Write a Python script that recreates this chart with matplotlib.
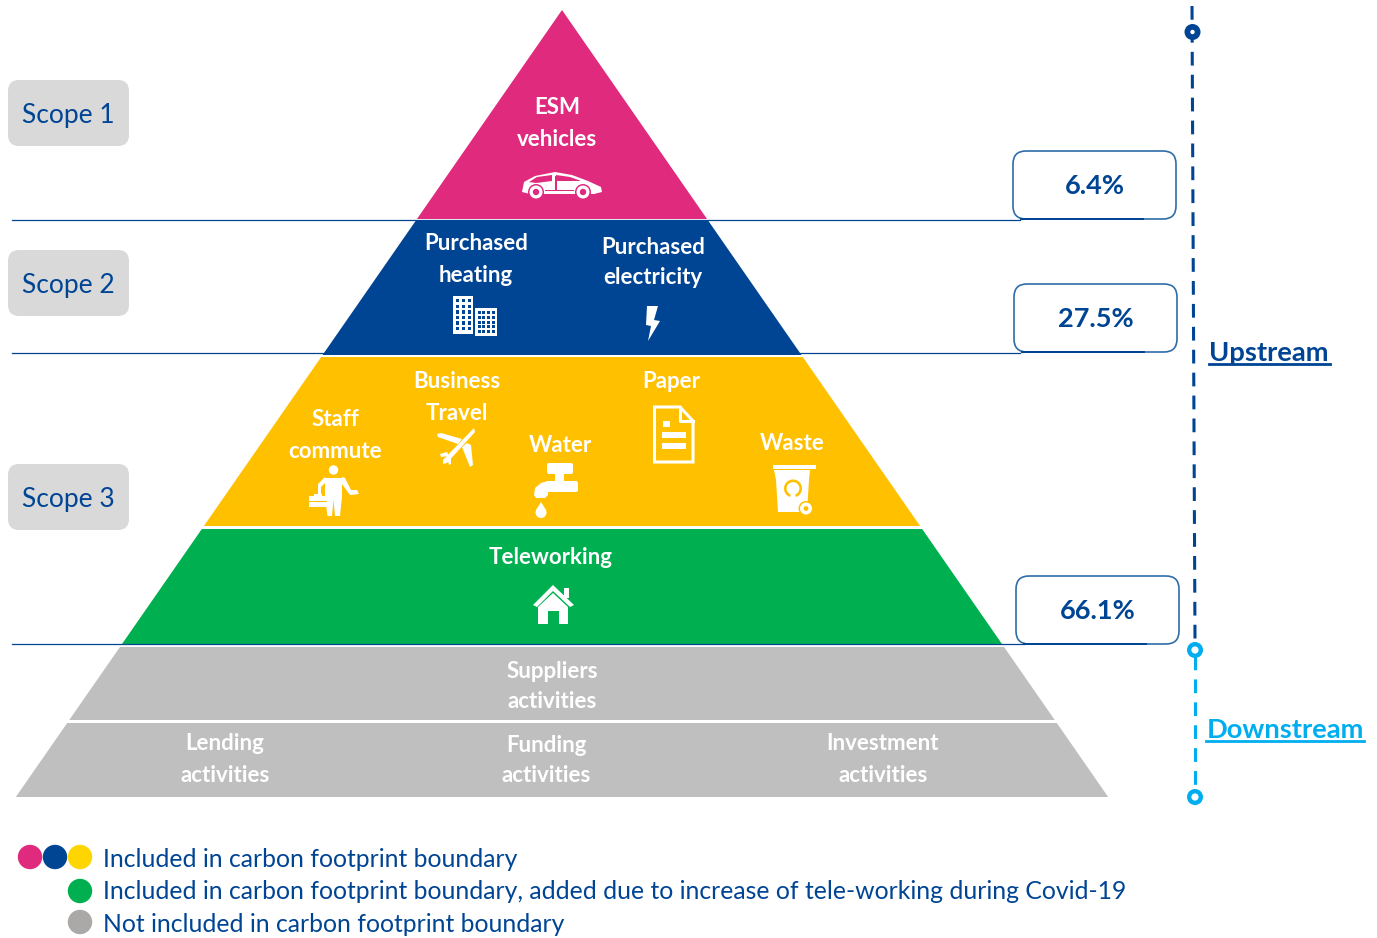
import matplotlib.pyplot as plt
from matplotlib.patches import Polygon, Circle, Rectangle, FancyBboxPatch, Wedge

plt.rcParams['font.family'] = ['Lato', 'DejaVu Sans']

NAVY = '#004494'
CYAN = '#00AEEF'

# Pyramid layers, top to bottom
layer_tops = [10, 221, 357, 529, 647, 723]
layer_bottoms = [219, 355, 526, 644, 720, 797]
layer_colors = ['#DF2A7E', '#004494', '#FFC000', '#00B050', '#BFBFBF', '#BFBFBF']

scope_labels = ['Scope 1', 'Scope 2', 'Scope 3']
scope_y = [113, 283, 497]

share_labels = ['6.4%', '27.5%', '66.1%']
share_box_x = [1013, 1014, 1016]
share_box_y = [151, 284, 576]

# label, x, y
white_labels = [
    ('ESM', 557, 106), ('vehicles', 557, 137),
    ('Purchased', 476, 242), ('heating', 476, 273),
    ('Purchased', 653, 245), ('electricity', 653, 276),
    ('Business', 457, 380), ('Travel', 457, 411),
    ('Staff', 335, 417), ('commute', 335, 449),
    ('Water', 560, 444), ('Paper', 671, 380), ('Waste', 792, 441),
    ('Teleworking', 551, 555),
    ('Suppliers', 552, 669), ('activities', 552, 700),
    ('Lending', 225, 741), ('activities', 225, 773),
    ('Funding', 546, 743), ('activities', 546, 774),
    ('Investment', 883, 741), ('activities', 883, 773),
]

legend_labels = [
    'Included in carbon footprint boundary',
    'Included in carbon footprint boundary, added due to increase of tele-working during Covid-19',
    'Not included in carbon footprint boundary',
]
legend_y = [857, 889, 922]

fig = plt.figure(figsize=(13.77, 9.38), dpi=100)
ax = fig.add_axes([0, 0, 1, 1])
ax.set_xlim(0, 1377)
ax.set_ylim(938, 0)
ax.axis('off')


def half_width(y):
    return 0.694 * (y - 10)


def poly(points, color='white', zorder=5):
    ax.add_patch(Polygon(points, closed=True, facecolor=color, edgecolor='none', zorder=zorder))


def rect(x0, y0, x1, y1, color='white', zorder=5):
    ax.add_patch(Rectangle((x0, y0), x1 - x0, y1 - y0, facecolor=color, edgecolor='none', zorder=zorder))


def circle(x, y, r, color='white', zorder=5):
    ax.add_patch(Circle((x, y), r, facecolor=color, edgecolor='none', zorder=zorder))


# Pyramid
for top, bottom, color in zip(layer_tops, layer_bottoms, layer_colors):
    poly([(562 - half_width(top), top), (562 + half_width(top), top),
          (562 + half_width(bottom), bottom), (562 - half_width(bottom), bottom)], color, zorder=2)

# Thin separators
for y, x1 in zip([219.6, 353, 644], [1020, 1020, 1024]):
    ax.plot([12, x1], [y, y], color=NAVY, lw=0.9, zorder=3)

# Scope tags
for label, y in zip(scope_labels, scope_y):
    ax.add_patch(FancyBboxPatch((8, y - 33), 121, 66, boxstyle='round,pad=0,rounding_size=11', lw=0,
                                facecolor='#D9D9D9', zorder=3))
    ax.text(68, y + 2.5, label, color=NAVY, fontsize=19, ha='center', va='center', zorder=4)

# Share boxes
for label, x, y in zip(share_labels, share_box_x, share_box_y):
    ax.add_patch(FancyBboxPatch((x, y), 163, 68, boxstyle='round,pad=0,rounding_size=13',
                                facecolor='white', edgecolor='#2F6DA8', lw=1.2, zorder=4))
    ax.plot([x + 8, x + 130], [y + 68.5, y + 68.5], color=NAVY, lw=1.4, zorder=5)
    ax.text(x + 82, y + 35, label, color=NAVY, fontsize=19.5, fontweight='bold', ha='center', va='center', zorder=6)

# Labels on the pyramid
for label, x, y in white_labels:
    ax.text(x, y + 2, label, color='white', fontsize=16, fontweight='bold', ha='center', va='center', zorder=6)

# Upstream / downstream scale
ax.plot([1192, 1195], [6, 640], color=NAVY, lw=2.2, dashes=(4.5, 3), zorder=3)
ax.plot([1195, 1195], [656, 790], color=CYAN, lw=2.2, dashes=(4.5, 3), zorder=3)
circle(1192.5, 32, 8, NAVY)
circle(1192.5, 32, 2.2, 'white', zorder=6)
for y in [650, 797]:
    circle(1195, y, 8, CYAN)
    circle(1195, y, 3.6, 'white', zorder=6)

ax.text(1269, 353, 'Upstream', color=NAVY, fontsize=19.7, fontweight='bold', ha='center', va='center')
ax.plot([1209, 1330], [364, 364], color=NAVY, lw=2)
ax.text(1285, 730, 'Downstream', color=CYAN, fontsize=19.7, fontweight='bold', ha='center', va='center')
ax.plot([1206, 1364], [741, 741], color=CYAN, lw=2)

# Legend
for x, color in zip([30, 55, 80], ['#DF2A7E', NAVY, '#FFD500']):
    circle(x, 857, 12.2, color)
circle(80, 891, 12.2, '#00B050')
circle(80, 922, 12.2, '#ABA8A8')
for label, y in zip(legend_labels, legend_y):
    ax.text(103, y + 2.5, label, color=NAVY, fontsize=17.8, ha='left', va='center')

# Car icon
PINK = layer_colors[0]
poly([(522, 192), (524, 182), (535, 176), (555, 172), (572, 175), (588, 181), (601, 187), (602, 192),
      (594, 194), (530, 194)])
poly([(529, 182), (537, 177), (552, 175), (552, 181), (536, 183)], PINK, 6)
poly([(556, 175), (570, 177), (581, 181), (556, 181)], PINK, 6)
rect(555, 176, 556.5, 190, PINK, 6)
rect(545, 190.5, 574, 191.5, PINK, 6)
for x in [536, 583]:
    circle(x, 192, 8, PINK, 6)
    circle(x, 192, 6.5, 'white', 7)
    circle(x, 192, 3.2, PINK, 8)

# Building icons
rect(453, 296, 473, 334)
rect(475, 308, 497, 336)
for row in range(6):
    for col in range(3):
        rect(455.5 + col * 6, 299 + row * 5.6, 459 + col * 6, 302.5 + row * 5.6, NAVY, 6)
for row in range(5):
    for col in range(4):
        rect(477.5 + col * 4.8, 311 + row * 4.8, 480.5 + col * 4.8, 314 + row * 4.8, NAVY, 6)

# Bolt icon
poly([(647, 306), (658, 306), (654, 320), (660, 321), (648, 341), (651, 326), (646, 325)])

# Person icon
circle(333.5, 470, 4.7)
poly([(325, 478), (342, 478), (342, 497), (340, 516), (335, 516), (333.5, 500), (332, 516), (327.5, 516), (325, 497)])
poly([(325, 477), (318, 484), (318, 496), (321, 496), (321, 487), (325, 483)])
poly([(342, 477), (345, 478), (351, 490), (357, 490), (359, 494), (350, 495), (342, 484)])
rect(309, 496, 326.5, 507)
rect(314, 494, 322, 496)
rect(309, 501, 326.5, 502, '#FFC000', 6)

# Plane icon
poly([(474, 428), (475, 432), (447, 463), (443, 464), (443, 460)])
poly([(458, 444), (438, 437), (437, 434), (441, 433), (462, 439)])
poly([(462, 447), (470, 467), (473, 465), (471, 445), (467, 443)])
poly([(449, 456), (441, 457), (440, 454), (447, 452)])
poly([(447, 458), (449, 465), (451, 464), (451, 455)])

# Tap icon
ax.add_patch(FancyBboxPatch((547, 463), 26, 11, boxstyle='round,pad=0,rounding_size=2', lw=0,
                            facecolor='white', zorder=5))
rect(555, 474, 564, 483)
ax.add_patch(FancyBboxPatch((546, 481), 32, 11, boxstyle='round,pad=0,rounding_size=2', lw=0,
                            facecolor='white', zorder=5))
poly([(548, 481), (541, 483), (535, 488), (534, 495), (536, 498), (545, 498), (548, 495), (548, 492)])
circle(541, 512.5, 5.5)
poly([(541, 502), (536, 510), (546, 510)])

# Paper icon
AMBER = layer_colors[2]
ax.add_patch(Polygon([(654.5, 407), (680, 407), (693, 421), (693, 462), (654.5, 462)], closed=True,
                     facecolor='none', edgecolor='white', lw=2.2, zorder=5))
ax.plot([680, 680, 693], [407, 421, 421], color='white', lw=2.2, zorder=5)
rect(663, 421, 670, 427)
rect(662, 432, 686, 438)
rect(662, 443, 686, 449)

# Bin icon
rect(773, 465, 816, 469.5)
poly([(774, 470), (810, 470), (809, 480), (807, 512), (778, 512), (776, 480)])
ax.add_patch(Wedge((793, 488.5), 9, 110, 70, width=2.6, facecolor=AMBER, edgecolor='none', zorder=6))
circle(806, 508.5, 7.5, AMBER, 6)
circle(806, 508.5, 6, 'white', 7)
circle(806, 508.5, 2.4, AMBER, 8)

# House icon
poly([(553, 585), (574, 605), (570, 607), (553, 591), (537, 607), (533, 605)])
poly([(553, 593), (568, 607), (568, 624), (559, 624), (559, 611), (548, 611), (548, 624), (538, 624), (538, 607)])
rect(564, 588, 569, 598)

fig.savefig('out.png', dpi=100)
